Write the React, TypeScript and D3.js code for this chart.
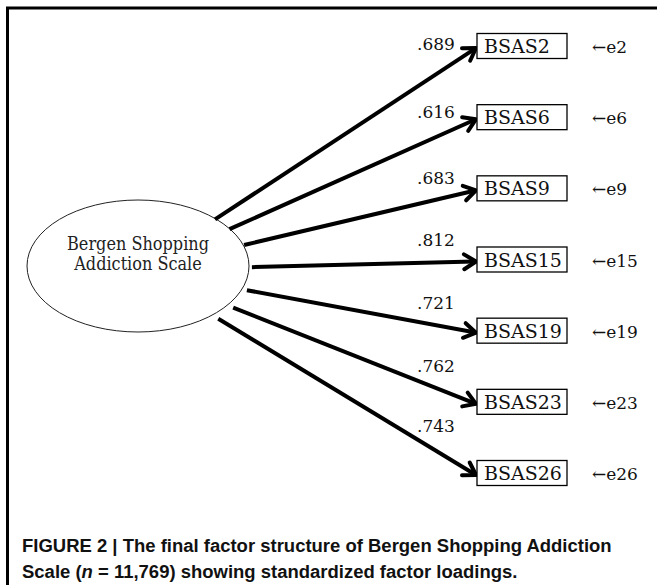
import * as d3 from 'd3';
import React, { useEffect, useRef } from 'react';

// indicator items, loadings and error terms
const items = ["BSAS2", "BSAS6", "BSAS9", "BSAS15", "BSAS19", "BSAS23", "BSAS26"];
const loadings = [".689", ".616", ".683", ".812", ".721", ".762", ".743"];
const errors = ["e2", "e6", "e9", "e15", "e19", "e23", "e26"];
const factorLabel = ["Bergen Shopping", "Addiction Scale"];
const captionLine1 = "FIGURE 2 | The final factor structure of Bergen Shopping Addiction";
const captionLine2 = ["Scale (", "n", " = 11,769) showing standardized factor loadings."];

const App = () => {
	const svgRef = useRef<SVGSVGElement | null>(null);

	useEffect(() => {
		const width = 657;
		const height = 585;
		const svg = d3.select(svgRef.current)
			.attr("width", width)
			.attr("height", height);
		svg.selectAll("*").remove();

		svg.append("rect").attr("width", width).attr("height", height).attr("fill", "#fff");

		// frame (left + top edges visible in the crop)
		svg.append("path")
			.attr("d", `M7.5,${height} V8 H${width}`)
			.attr("fill", "none")
			.attr("stroke", "#000")
			.attr("stroke-width", 3);

		const serif = "'DejaVu Serif', 'Liberation Serif', serif";

		const y = d3.scalePoint<string>().domain(items).range([46, 473]);
		const boxX = 477, boxW = 90, boxH = 25;

		const ell = { cx: 138, cy: 266, rx: 111, ry: 66 };
		const focus = { x: ell.cx, y: ell.cy + 4 };

		// latent factor
		svg.append("ellipse")
			.attr("cx", ell.cx).attr("cy", ell.cy)
			.attr("rx", ell.rx).attr("ry", ell.ry)
			.attr("fill", "#fff")
			.attr("stroke", "#222")
			.attr("stroke-width", 1);

		const fl = svg.append("g")
			.selectAll("text")
			.data(factorLabel)
			.join("text")
			.attr("x", 0)
			.attr("y", (d, i) => i * 20)
			.attr("text-anchor", "middle")
			.style("font-family", serif)
			.style("font-size", "19px")
			.attr("fill", "#222")
			.text(d => d);
		const flW = (fl.nodes()[0] as SVGTextElement).getComputedTextLength();
		fl.attr("transform", `translate(${ell.cx},${ell.cy - 16}) scale(${142 / flW},1)`);

		const paths = items.map((item, i) => {
			const tip = { x: boxX - 1, y: (y(item) as number) + 2 };
			const dx = tip.x - focus.x;
			const dy = tip.y - focus.y;
			const t = 1 / Math.sqrt((dx / ell.rx) ** 2 + (dy / ell.ry) ** 2);
			const len = Math.hypot(dx, dy);
			const gap = 3 / len;
			const start = { x: focus.x + (t + gap) * dx, y: focus.y + (t + gap) * dy };
			return { item, i, tip, start, ux: dx / len, uy: dy / len };
		});

		const arrows = svg.append("g");
		paths.forEach(p => {
			arrows.append("line")
				.attr("x1", p.start.x).attr("y1", p.start.y)
				.attr("x2", p.tip.x - p.ux * 2).attr("y2", p.tip.y - p.uy * 2)
				.attr("stroke", "#000")
				.attr("stroke-width", 4);

			const a = (32 * Math.PI) / 180;
			const L = 14;
			const back = (ang: number) => ({
				x: p.tip.x - L * (p.ux * Math.cos(ang) - p.uy * Math.sin(ang)),
				y: p.tip.y - L * (p.uy * Math.cos(ang) + p.ux * Math.sin(ang)),
			});
			const b1 = back(a), b2 = back(-a);
			arrows.append("path")
				.attr("d", `M${b1.x},${b1.y} L${p.tip.x},${p.tip.y} L${b2.x},${b2.y}`)
				.attr("fill", "none")
				.attr("stroke", "#000")
				.attr("stroke-width", 4)
				.attr("stroke-linejoin", "round")
				.attr("stroke-linecap", "round");

			// loading label sits just above the line near the arrow head
			const lineY = (x: number) => p.tip.y + (x - p.tip.x) * (p.uy / p.ux);
			const base = Math.min(lineY(437) - 16, lineY(462) - 7, lineY(417) - 7);
			svg.append("text")
				.attr("x", 417)
				.attr("y", base)
				.style("font-family", serif)
				.style("font-size", "17px")
				.attr("fill", "#111")
				.text(loadings[p.i]);
		});

		// observed indicators
		const boxes = svg.append("g")
			.selectAll("g")
			.data(items)
			.join("g")
			.attr("transform", d => `translate(${boxX},${(y(d) as number) - boxH / 2})`);

		boxes.append("rect")
			.attr("width", boxW)
			.attr("height", boxH)
			.attr("fill", "#fff")
			.attr("stroke", "#000")
			.attr("stroke-width", 1.3);

		boxes.append("text")
			.attr("x", 7)
			.attr("y", boxH / 2 + 7)
			.style("font-family", serif)
			.style("font-size", "19px")
			.attr("fill", "#111")
			.text(d => d);

		svg.append("g")
			.selectAll("text")
			.data(errors)
			.join("text")
			.attr("x", 592)
			.attr("y", (d, i) => (y(items[i]) as number) + 7)
			.style("font-family", serif)
			.style("font-size", "17px")
			.attr("fill", "#111")
			.text(d => "\u2190" + d);

		// caption, condensed bold sans
		const cap = svg.append("g").attr("transform", "translate(22,0)");
		const c1 = cap.append("text")
			.attr("x", 0).attr("y", 552)
			.style("font-family", "'Liberation Sans', Arial, sans-serif")
			.style("font-size", "19px")
			.style("font-weight", "bold")
			.attr("fill", "#111")
			.text(captionLine1);
		const c2 = cap.append("text")
			.attr("x", 0).attr("y", 578)
			.style("font-family", "'Liberation Sans', Arial, sans-serif")
			.style("font-size", "19px")
			.style("font-weight", "bold")
			.attr("fill", "#111");
		c2.selectAll("tspan")
			.data(captionLine2)
			.join("tspan")
			.style("font-style", (d, i) => (i === 1 ? "italic" : "normal"))
			.text(d => d);

		const len1 = (c1.node() as SVGTextElement).getComputedTextLength();
		const sx = 590 / len1;
		c1.attr("transform", `scale(${sx},1)`);
		c2.attr("transform", `scale(${sx},1)`);
	}, []);

	return (
		<svg ref={svgRef} style={{ position: "absolute", left: 0, top: 0, display: "block" }} />
	);
};

export default App;
